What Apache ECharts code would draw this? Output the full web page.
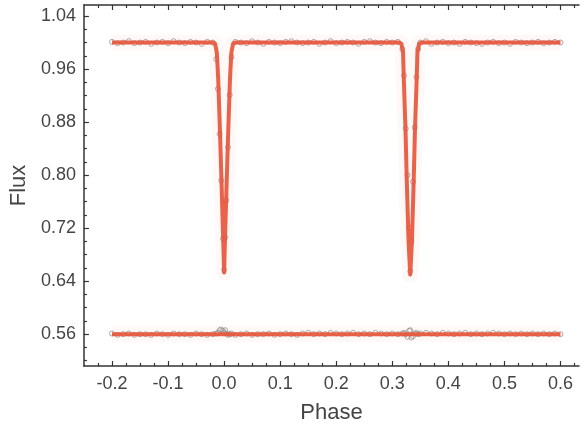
<!DOCTYPE html>
<html>
<head>
<meta charset="utf-8">
<script src="https://cdn.jsdelivr.net/npm/echarts@6/dist/echarts.min.js"></script>
<style>html,body{margin:0;padding:0;background:#fff}#c{width:587px;height:429px}</style>
</head>
<body>
<div id="c"></div>
<script>
// ---- tick labels ----
const xTicks = [-0.2, -0.1, 0.0, 0.1, 0.2, 0.3, 0.4, 0.5, 0.6];
const yTicks = [0.56, 0.64, 0.72, 0.80, 0.88, 0.96, 1.04];
const xMinorTicks = [-0.225,-0.175,-0.15,-0.125,-0.075,-0.05,-0.025,0.025,0.05,0.075,0.125,0.15,0.175,0.225,0.25,0.275,0.325,0.35,0.375,0.425,0.45,0.475,0.525,0.55,0.575,0.625];
const yMinorTicks = [0.52,0.54,0.58,0.60,0.62,0.66,0.68,0.70,0.74,0.76,0.78,0.82,0.84,0.86,0.90,0.92,0.94,0.98,1.00,1.02,1.06];

// ---- model light curve ----
const modelPhase = [-0.2, -0.02, -0.016, -0.013, -0.0105, -0.0075, -0.0045, -0.0015, 0.0, 0.0015, 0.0045, 0.0075, 0.0105, 0.013, 0.016, 0.02,
                    0.312, 0.3162, 0.3192, 0.3205, 0.3235, 0.326, 0.329, 0.332, 0.335, 0.338, 0.3405, 0.3435, 0.3448, 0.3478, 0.352, 0.6];
const modelFlux  = [1.0, 1.0, 0.998, 0.985, 0.945, 0.87, 0.787, 0.70, 0.653, 0.70, 0.787, 0.87, 0.945, 0.985, 0.998, 1.0,
                    1.0, 0.998, 0.985, 0.945, 0.87, 0.787, 0.70, 0.650, 0.70, 0.787, 0.87, 0.945, 0.985, 0.998, 1.0, 1.0];

// ---- residual model ----
const resModelPhase = [-0.2, 0.6];
const resModelFlux  = [0.560, 0.560];

// ---- observations ----
const obsPhase = [-0.20,-0.19,-0.18,-0.17,-0.16,-0.15,-0.14,-0.13,-0.12,-0.11,-0.10,-0.09,-0.08,-0.07,-0.06,-0.05,-0.04,-0.03,-0.02,
  -0.014,-0.011,-0.008,-0.005,-0.002,0.0,0.002,0.004,0.007,0.010,0.013,
  0.02,0.03,0.04,0.05,0.06,0.07,0.08,0.09,0.10,0.11,0.12,0.13,0.14,0.15,0.16,0.17,0.18,0.19,0.20,0.21,0.22,0.23,0.24,0.25,0.26,0.27,0.28,0.29,0.30,0.31,
  0.318,0.321,0.324,0.327,0.330,0.332,0.334,0.337,0.340,0.343,0.346,
  0.35,0.36,0.37,0.38,0.39,0.40,0.41,0.42,0.43,0.44,0.45,0.46,0.47,0.48,0.49,0.50,0.51,0.52,0.53,0.54,0.55,0.56,0.57,0.58,0.59,0.60];
const obsFlux = [1.001,0.999,1.000,1.002,0.999,1.000,1.001,0.998,1.000,1.001,0.999,1.002,1.000,0.999,1.001,1.000,0.998,1.001,1.000,
  0.975,0.930,0.862,0.792,0.704,0.657,0.706,0.762,0.842,0.921,0.978,
  1.001,1.000,0.999,1.002,1.000,0.998,1.001,1.000,0.999,1.001,1.002,1.000,0.999,1.000,1.001,0.998,1.000,1.002,0.999,1.000,1.001,1.000,0.998,1.001,1.002,1.000,0.999,1.001,1.000,1.001,
  0.990,0.950,0.870,0.800,0.720,0.655,0.700,0.790,0.872,0.948,0.990,
  1.000,1.002,0.998,1.000,1.001,0.999,1.000,0.998,1.001,1.000,0.999,0.998,1.000,1.001,0.999,1.000,0.998,1.001,1.000,0.999,1.000,1.001,0.999,1.000,1.001,1.000];
const resFlux = [0.561,0.559,0.560,0.561,0.559,0.560,0.560,0.559,0.561,0.560,0.559,0.561,0.560,0.560,0.559,0.561,0.560,0.559,0.560,
  0.561,0.562,0.566,0.567,0.565,0.562,0.566,0.561,0.559,0.560,0.561,
  0.559,0.560,0.561,0.559,0.560,0.560,0.561,0.559,0.560,0.561,0.560,0.559,0.561,0.562,0.560,0.561,0.560,0.562,0.561,0.560,0.561,0.562,0.560,0.561,0.560,0.562,0.561,0.560,0.561,0.560,
  0.561,0.562,0.560,0.556,0.565,0.566,0.555,0.557,0.561,0.562,0.560,
  0.561,0.562,0.561,0.560,0.562,0.561,0.560,0.561,0.562,0.560,0.561,0.560,0.561,0.562,0.561,0.560,0.561,0.560,0.561,0.560,0.561,0.560,0.561,0.560,0.561,0.560];

const pairs = (xs, ys) => xs.map((x, i) => [x, ys[i]]);

const X_MIN = -0.25, X_MAX = 0.633, Y_MIN = 0.512, Y_MAX = 1.0566;
const axisColor = '#333';
const lineRed = '#e8553a';
const font = 'Liberation Sans, Arial, sans-serif';

function xAxisDef(pos, major, showLabel, showLine, showName) {
  return {
    type: 'value', position: pos, min: X_MIN, max: X_MAX,
    name: showName ? 'Phase' : '', nameLocation: 'middle', nameGap: 36,
    nameTextStyle: { fontFamily: font, fontSize: 22, color: '#444' },
    axisLine: { show: showLine, onZero: false, lineStyle: { color: axisColor, width: 1.5 } },
    axisTick: { show: true, inside: true, length: major ? 5 : 3, customValues: major ? xTicks : xMinorTicks, lineStyle: { color: axisColor, width: 1.2 } },
    axisLabel: { show: showLabel, customValues: xTicks, margin: 9, fontFamily: font, fontSize: 18, color: '#444', formatter: v => v.toFixed(1) },
    splitLine: { show: false }
  };
}
function yAxisDef(major, showLabel, showLine, showName) {
  return {
    type: 'value', position: 'left', min: Y_MIN, max: Y_MAX,
    name: showName ? 'Flux' : '', nameLocation: 'middle', nameGap: 53,
    nameTextStyle: { fontFamily: font, fontSize: 22, color: '#444' },
    axisLine: { show: showLine, onZero: false, lineStyle: { color: axisColor, width: 1.5 } },
    axisTick: { show: true, inside: true, length: major ? 5 : 3, customValues: major ? yTicks : yMinorTicks, lineStyle: { color: axisColor, width: 1.2 } },
    axisLabel: { show: showLabel, customValues: yTicks, margin: 8, fontFamily: font, fontSize: 18, color: '#444', formatter: v => v.toFixed(2) },
    splitLine: { show: false }
  };
}

const chart = echarts.init(document.getElementById('c'), null, { renderer: 'canvas' });
chart.setOption({
  animation: false,
  backgroundColor: '#fff',
  grid: { left: 82, right: 8, top: 5, bottom: 63, containLabel: false },
  xAxis: [
    xAxisDef('bottom', true, true, true, true),
    xAxisDef('top', true, false, true, false),
    xAxisDef('bottom', false, false, false, false),
    xAxisDef('top', false, false, false, false)
  ],
  yAxis: [
    yAxisDef(true, true, true, true),
    yAxisDef(false, false, false, false)
  ],
  series: [
    { type: 'line', data: pairs(modelPhase, modelFlux), symbol: 'none', silent: true,
      lineStyle: { color: 'rgba(240,120,90,0.05)', width: 16, join: 'round' } },
    { type: 'line', data: pairs(resModelPhase, resModelFlux), symbol: 'none', silent: true,
      lineStyle: { color: 'rgba(240,120,90,0.05)', width: 16 } },
    { type: 'scatter', data: pairs(obsPhase, obsFlux), symbol: 'circle', symbolSize: 5,
      itemStyle: { color: 'rgba(255,255,255,0)', borderColor: '#8a8a8a', borderWidth: 0.9 } },
    { type: 'scatter', data: pairs(obsPhase, resFlux), symbol: 'circle', symbolSize: 5,
      itemStyle: { color: 'rgba(255,255,255,0)', borderColor: '#8a8a8a', borderWidth: 0.9 } },
    { type: 'line', data: pairs(modelPhase, modelFlux), symbol: 'none', silent: true,
      lineStyle: { color: lineRed, width: 4, join: 'round', opacity: 0.92 } },
    { type: 'line', data: pairs(resModelPhase, resModelFlux), symbol: 'none', silent: true,
      lineStyle: { color: lineRed, width: 4, opacity: 0.92 } }
  ]
});
</script>
</body>
</html>
